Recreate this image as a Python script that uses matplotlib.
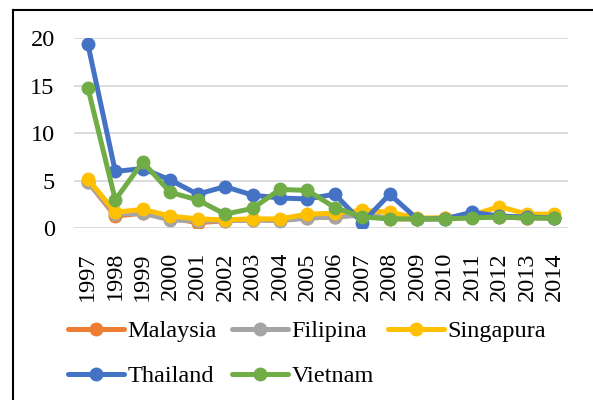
import matplotlib
matplotlib.use("Agg")
import matplotlib.pyplot as plt
from matplotlib.lines import Line2D

years = [str(y) for y in range(1997, 2015)]
malaysia = [4.9, 1.3, 1.6, 1.1, 0.6, 0.8, 0.9, 0.9, 1.1, 1.2, 1.5, 1.0, 1.0, 1.1, 1.2, 1.2, 1.1, 1.1]
filipina = [4.9, 1.5, 1.6, 0.9, 0.8, 0.8, 0.9, 0.8, 1.1, 1.2, 1.4, 1.1, 1.0, 1.0, 1.2, 1.2, 1.1, 1.1]
singapura = [5.2, 1.7, 2.0, 1.3, 1.0, 0.9, 1.0, 1.0, 1.5, 1.6, 1.9, 1.7, 1.1, 1.1, 1.4, 2.3, 1.5, 1.5]
thailand = [19.4, 6.0, 6.3, 5.1, 3.6, 4.4, 3.5, 3.2, 3.1, 3.6, 0.6, 3.6, 1.0, 1.0, 1.7, 1.3, 1.2, 1.1]
vietnam = [14.8, 3.0, 7.0, 3.8, 3.0, 1.5, 2.1, 4.1, 4.0, 2.2, 1.2, 1.0, 1.0, 1.0, 1.1, 1.2, 1.1, 1.1]

series = [
    ("Malaysia", malaysia, "#ED7D31"),
    ("Filipina", filipina, "#A5A5A5"),
    ("Singapura", singapura, "#FFC000"),
    ("Thailand", thailand, "#4472C4"),
    ("Vietnam", vietnam, "#70AD47"),
]

plt.rcParams['font.family'] = ['Liberation Serif', 'DejaVu Serif']
FS = 17.5

fig = plt.figure(figsize=(5.93, 4.0), dpi=100)
ax = fig.add_axes([0.125, 0.429, 0.833, 0.475])

x = list(range(len(years)))
handles = {}
for name, vals, col in series:
    h, = ax.plot(x, vals, color=col, lw=3.6, marker='o', ms=9,
                 solid_capstyle='round', solid_joinstyle='round', label=name)
    handles[name] = h

ax.set_xlim(-0.5, len(years) - 0.5)
ax.set_ylim(0, 20)
ax.set_yticks([0, 5, 10, 15, 20])
ax.set_xticks(x)
ax.set_xticklabels(years, rotation=90)
ax.tick_params(axis='both', length=0, labelsize=FS, colors='black')
ax.tick_params(axis='y', pad=14)
ax.tick_params(axis='x', pad=17)
ax.grid(axis='y', color='#D9D9D9', lw=1.3)
ax.set_axisbelow(True)
for s in ax.spines.values():
    s.set_visible(False)

order = ["Malaysia", "Thailand", "Filipina", "Vietnam", "Singapura"]
leg = fig.legend([handles[n] for n in order], order, ncol=3,
                 loc='upper left', bbox_to_anchor=(0.115, 0.2),
                 frameon=False, fontsize=FS, handlelength=2.3,
                 handletextpad=0.15, columnspacing=0.6, labelspacing=0.95,
                 borderpad=0, borderaxespad=0)

# outer frame (top and left lines)
fig.add_artist(Line2D([13/593, 13/593], [0, 1 - 10/400], transform=fig.transFigure, color='black', lw=1.5))
fig.add_artist(Line2D([13/593, 1], [1 - 10/400, 1 - 10/400], transform=fig.transFigure, color='black', lw=1.5))

fig.savefig("out.png", dpi=100)
